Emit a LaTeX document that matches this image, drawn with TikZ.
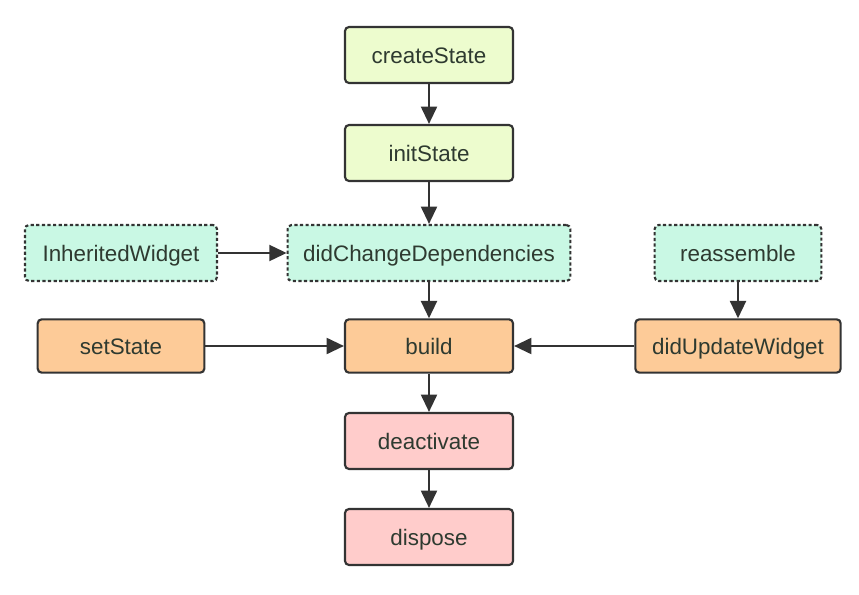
\documentclass[tikz,border=0pt]{standalone}
\usepackage{fontspec}
\setmainfont{Liberation Sans}
\usetikzlibrary{arrows.meta}
\definecolor{boxline}{HTML}{333333}
\definecolor{boxtext}{HTML}{2E3A30}
\definecolor{greenfill}{HTML}{EDFCCE}
\definecolor{mintfill}{HTML}{C9F8E4}
\definecolor{orangefill}{HTML}{FDCB98}
\definecolor{pinkfill}{HTML}{FFCCCB}
\tikzset{
  stage/.style={draw=boxline, line width=1.6pt, rounded corners=3pt,
    minimum height=42pt, text=boxtext, text height=13pt, text depth=0pt,
    font=\fontsize{16.8}{18}\selectfont},
  optional/.style={stage, dash pattern=on 2.4pt off 1.8pt},
  flow/.style={draw=boxline, line width=1.6pt, -{Triangle[length=13pt,width=12pt]}}
}

\begin{document}
\begin{tikzpicture}[x=0.75pt, y=-0.75pt]
      \useasboundingbox (0,0) rectangle (859,595);

      \draw (429,55) node[stage, fill=greenfill, minimum width=126pt] (create) {createState};
      \draw (429,153) node[stage, fill=greenfill, minimum width=126pt] (init) {initState};

      \draw (121,253) node[optional, fill=mintfill, minimum width=144pt] (inherited) {InheritedWidget};
      \draw (429,253) node[optional, fill=mintfill, minimum width=212pt] (deps) {didChangeDependencies};
      \draw (738,253) node[optional, fill=mintfill, minimum width=125pt] (reassemble) {reassemble};

      \draw (121,346) node[stage, fill=orangefill, minimum width=125pt, minimum height=40pt] (setstate) {setState};
      \draw (429,346) node[stage, fill=orangefill, minimum width=126pt, minimum height=40pt] (build) {build};
      \draw (738,346) node[stage, fill=orangefill, minimum width=154pt, minimum height=40pt] (update) {didUpdateWidget};

      \draw (429,441) node[stage, fill=pinkfill, minimum width=126pt] (deactivate) {deactivate};
      \draw (429,537) node[stage, fill=pinkfill, minimum width=126pt] (dispose) {dispose};

      \draw[flow] (create) -- (init);
      \draw[flow] (init) -- (deps);
      \draw[flow] (inherited) -- (deps);
      \draw[flow] (deps) -- (build);
      \draw[flow] (setstate) -- (build);
      \draw[flow] (update) -- (build);
      \draw[flow] (reassemble) -- (update);
      \draw[flow] (build) -- (deactivate);
      \draw[flow] (deactivate) -- (dispose);

    \end{tikzpicture}
\end{document}
